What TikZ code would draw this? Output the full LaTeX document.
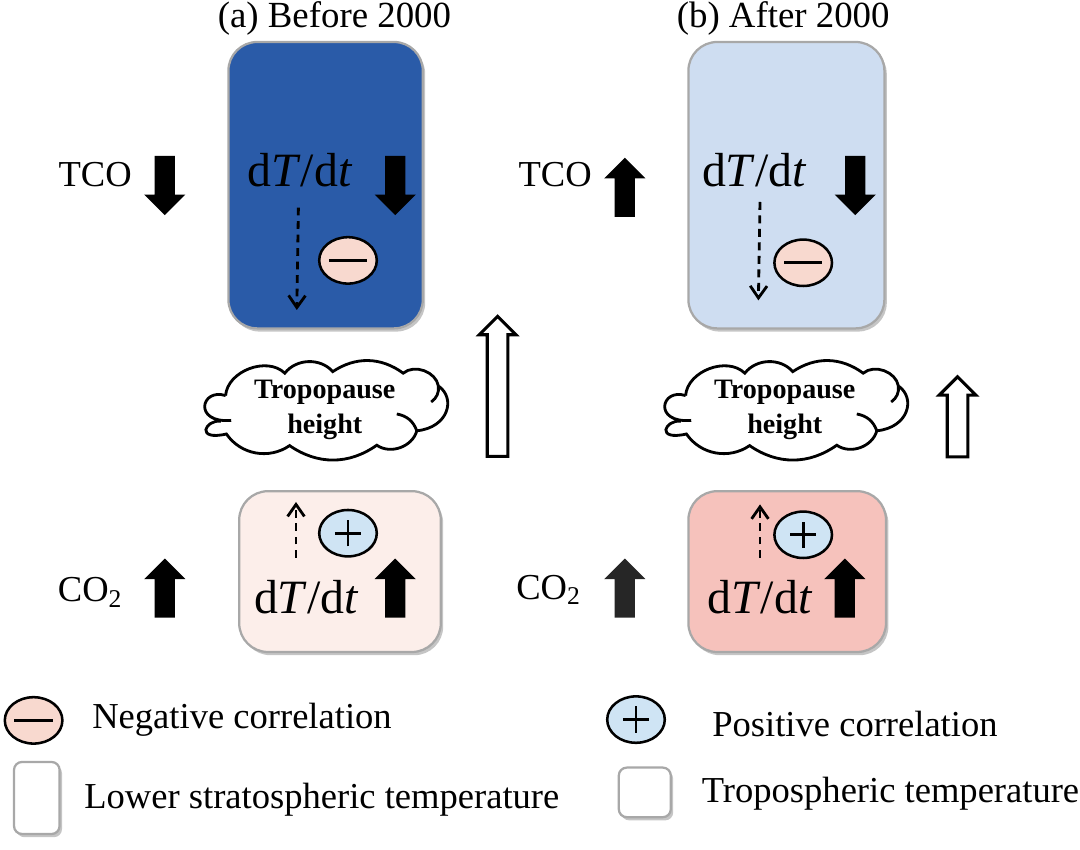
\documentclass[tikz,border=0pt]{standalone}
\usepackage{fontspec}
\setmainfont{Liberation Serif}
\usepackage{xcolor}
\usetikzlibrary{shapes.arrows,shapes.geometric,shadows,arrows.meta}
\definecolor{TopDark}{HTML}{2A5BA8}
\definecolor{TopLight}{HTML}{CEDDF1}
\definecolor{LowPale}{HTML}{FCEEEA}
\definecolor{LowRose}{HTML}{F6C2BC}
\definecolor{MinusFill}{HTML}{F8D9CF}
\definecolor{PlusFill}{HTML}{CFE4F4}
\definecolor{BoxEdge}{HTML}{A8A8A8}
\tikzset{
  tempbox/.style={draw=BoxEdge,line width=0.8pt,rounded corners=0.36cm,inner sep=0pt,
    drop shadow={shadow xshift=0.03cm,shadow yshift=-0.04cm,fill=black!45}},
  blockarrow/.style={single arrow,fill=black,inner sep=0.12cm,minimum width=0.50cm,
    minimum height=0.74cm,single arrow head extend=0.13cm,single arrow tip angle=90},
  openarrow/.style={single arrow,draw=black,fill=white,line width=1.1pt,inner sep=0.11cm,minimum width=0.45cm,
    single arrow head extend=0.10cm,single arrow tip angle=90},
  corr/.style={ellipse,draw=black,line width=0.9pt,minimum width=0.72cm,minimum height=0.58cm,inner sep=0pt},
  minuscorr/.style={corr,fill=MinusFill,path picture={
    \draw[line width=1.1pt] (path picture bounding box.center) +(-0.24,0) -- +(0.24,0);}},
  pluscorr/.style={corr,fill=PlusFill,path picture={
    \draw[line width=1pt] (path picture bounding box.center) +(-0.165,0) -- +(0.165,0)
      +(0,-0.165) -- +(0,0.165);}},
  trend/.style={dash pattern=on 2.8pt off 2pt,line width=1pt,-{Straight Barb[length=1.5mm,width=2.1mm]}},
  tropotext/.style={align=center,font=\fontsize{10}{12.2}\selectfont\bfseries},
  tropocloud/.pic={
    \draw[line width=1pt] (-1.24,0.15) to[bend left=65] (-0.50,0.43) to[bend left=50] (0.10,0.45)
      to[bend left=35] (0.98,0.43) to[bend left=60] (1.42,0.27)
      .. controls (1.64,0.12) and (1.55,-0.25) .. (1.15,-0.29)
      to[bend left=55] (0.65,-0.47) to[bend left=35] (-0.44,-0.475) to[bend left=45] (-1.23,-0.33)
      .. controls (-1.62,-0.42) and (-1.50,-0.15) .. (-1.30,-0.17);
    \draw[line width=1pt] (-1.17,-0.16) .. controls (-1.65,-0.20) and (-1.55,0.25) .. (-1.24,0.15);
    \draw[line width=1pt] (1.42,0.27) to[bend left=30] (1.33,0.07);
    \draw[line width=1pt] (0.90,-0.08) to[bend left=30] (1.15,-0.29);
  },
  title/.style={font=\fontsize{13.1}{15}\selectfont},
  rate/.style={font=\fontsize{17}{19}\selectfont},
  side/.style={font=\fontsize{13}{15}\selectfont},
  legendtext/.style={anchor=west,font=\fontsize{13}{15}\selectfont},
}
\begin{document}
\begin{tikzpicture}[x=1cm,y=1cm]
\path[use as bounding box] (0,0) rectangle (13.50,10.625);
% titles
\node[title] (titleA) at (4.18,10.39) {(a) Before 2000};
\node[title] (titleB) at (9.79,10.39) {(b) After 2000};
% temperature boxes
\node[tempbox,fill=TopDark,minimum width=2.43cm,minimum height=3.58cm] (boxAtop) at (4.07,8.31) {};
\node[tempbox,fill=TopLight,minimum width=2.45cm,minimum height=3.58cm] (boxBtop) at (9.83,8.31) {};
\node[tempbox,fill=LowPale,minimum width=2.52cm,minimum height=2.01cm] (boxAlow) at (4.25,3.48) {};
\node[tempbox,fill=LowRose,minimum width=2.47cm,minimum height=2.01cm] (boxBlow) at (9.84,3.48) {};
% rates
\node[rate] (rateAtop) at (3.75,8.50) {d\textit{T}/d\textit{t}};
\node[rate] (rateBtop) at (9.43,8.50) {d\textit{T}/d\textit{t}};
\node[rate] (rateAlow) at (3.83,3.16) {d\textit{T}/d\textit{t}};
\node[rate] (rateBlow) at (9.50,3.16) {d\textit{T}/d\textit{t}};
% side labels
\node[side] (tcoA) at (1.19,8.44) {TCO};
\node[side] (tcoB) at (6.94,8.44) {TCO};
\node[side] (coA) at (1.13,3.22) {CO\textsubscript{2}};
\node[side] (coB) at (6.86,3.25) {CO\textsubscript{2}};
% black arrows
\node[blockarrow,rotate=-90] (arrTcoA) at (2.06,8.37) {};
\node[blockarrow,rotate=-90] (arrRateA) at (4.94,8.37) {};
\node[blockarrow,rotate=90] (arrTcoB) at (7.81,8.22) {};
\node[blockarrow,rotate=-90] (arrRateB) at (10.69,8.37) {};
\node[blockarrow,rotate=90] (arrCoA) at (2.06,3.21) {};
\node[blockarrow,rotate=90] (arrLowA) at (4.94,3.21) {};
\node[blockarrow,rotate=90,fill=black!85] (arrCoB) at (7.81,3.21) {};
\node[blockarrow,rotate=90] (arrLowB) at (10.56,3.21) {};
% open arrows
\node[openarrow,rotate=90,minimum height=1.75cm] (openA) at (6.22,5.73) {};
\node[openarrow,rotate=90,minimum height=1.00cm] (openB) at (11.97,5.35) {};
% clouds
\pic at (4.06,5.53) {tropocloud};
\pic at (9.81,5.53) {tropocloud};
\node[tropotext] (cloudA) at (4.06,5.50) {Tropopause\\height};
\node[tropotext] (cloudB) at (9.81,5.50) {Tropopause\\height};
% correlation signs
\node[minuscorr] (minusA) at (4.35,7.37) {};
\node[minuscorr] (minusB) at (10.04,7.34) {};
\node[pluscorr] (plusA) at (4.35,3.96) {};
\node[pluscorr] (plusB) at (10.04,3.94) {};
% dashed trends
\coordinate (trendAtopS) at (3.73,8.03);
\coordinate (trendAtopE) at (3.71,6.75);
\coordinate (trendBtopS) at (9.50,8.10);
\coordinate (trendBtopE) at (9.48,6.87);
\coordinate (trendAlowS) at (3.70,3.65);
\coordinate (trendAlowE) at (3.70,4.35);
\coordinate (trendBlowS) at (9.50,3.65);
\coordinate (trendBlowE) at (9.50,4.32);
\draw[trend] (trendAtopS) -- (trendAtopE);
\draw[trend] (trendBtopS) -- (trendBtopE);
\draw[trend] (trendAlowS) -- (trendAlowE);
\draw[trend] (trendBlowS) -- (trendBlowE);
% legend
\node[minuscorr] (keyMinus) at (0.42,1.62) {};
\node[pluscorr] (keyPlus) at (7.95,1.63) {};
\node[tempbox,fill=white,rounded corners=0.10cm,minimum width=0.57cm,minimum height=0.90cm] (keyLower) at (0.46,0.65) {};
\node[tempbox,fill=white,rounded corners=0.10cm,minimum width=0.65cm,minimum height=0.62cm] (keyTropo) at (8.06,0.72) {};
\node[legendtext] (textMinus) at (1.03,1.63) {Negative correlation};
\node[legendtext] (textPlus) at (8.78,1.58) {Positive correlation};
\node[legendtext] (textLower) at (0.93,0.63) {Lower stratospheric temperature};
\node[legendtext] (textTropo) at (8.65,0.70) {Tropospheric temperature};
\end{tikzpicture}
\end{document}
